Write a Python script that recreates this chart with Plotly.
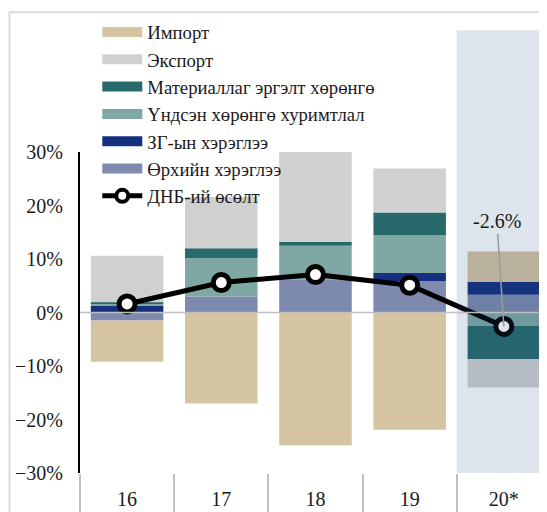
import plotly.graph_objects as go

years = ["16", "17", "18", "19", "20*"]
household = [-1.5, 3.0, 6.2, 5.9, 3.3]
government = [1.3, 0.0, 0.0, 1.5, 2.4]
fixed_capital = [0.3, 7.2, 6.3, 7.1, -2.5]
inventories = [0.3, 1.8, 0.7, 4.2, -6.2]
exports = [8.7, 9.6, 16.8, 8.2, -5.3]
imports = [-7.7, -17.0, -24.8, -21.9, 5.7]
gdp_growth = [1.6, 5.6, 7.1, 5.1, -2.6]

names = {
    "imp": "Импорт",
    "exp": "Экспорт",
    "inv": "Материаллаг эргэлт хөрөнгө",
    "fix": "Үндсэн хөрөнгө хуримтлал",
    "gov": "ЗГ-ын хэрэглээ",
    "hh": "Өрхийн хэрэглээ",
    "gdp": "ДНБ-ий өсөлт",
}
colors = {
    "imp": "#d5c4a1",
    "exp": "#d0d0d0",
    "inv": "#286a6c",
    "fix": "#7fa8a5",
    "gov": "#15307f",
    "hh": "#7d8aad",
}

FONT = "'Liberation Serif', 'Times New Roman', 'DejaVu Serif', serif"
TXT = "#1a1a1a"
x_range = [-0.5, 4.458]

fig = go.Figure()
series = [("hh", household), ("gov", government), ("fix", fixed_capital),
          ("inv", inventories), ("exp", exports), ("imp", imports)]
for key, vals in series:
    fig.add_trace(go.Bar(x=years, y=vals, name=names[key], marker_color=colors[key],
                         marker_line_width=0, width=0.77, showlegend=False))

fig.add_trace(go.Scatter(x=years, y=gdp_growth, name=names["gdp"], mode="lines+markers",
                         xaxis="x2",
                         line=dict(color="black", width=5),
                         marker=dict(size=16, color="white", line=dict(color="black", width=5)),
                         showlegend=False))

# legend entries
legend_keys = ["imp", "exp", "inv", "fix", "gov", "hh"]
for i, key in enumerate(legend_keys):
    fig.add_trace(go.Scatter(x=[None], y=[None], mode="lines", name=names[key],
                             line=dict(color=colors[key], width=10), legendrank=i + 1,
                             showlegend=True))
fig.add_trace(go.Scatter(x=[None], y=[None], mode="lines+markers", name=names["gdp"],
                         line=dict(color="black", width=5),
                         marker=dict(size=12, color="white", line=dict(color="black", width=4)),
                         legendrank=7, showlegend=True))

fig.add_annotation(x=years[-1], y=gdp_growth[-1], text=f"{gdp_growth[-1]}%", showarrow=True,
                   arrowhead=0, arrowwidth=1.5, arrowcolor="#9a9a9a", ax=-7, ay=-105,
                   standoff=0, font=dict(family=FONT, size=20, color=TXT))

shade_x0 = (3.5 - x_range[0]) / (x_range[1] - x_range[0])
fig.add_shape(type="rect", xref="paper", yref="paper", x0=shade_x0, x1=1.0, y0=0, y1=1.379,
              fillcolor="rgba(31,73,125,0.15)", line_width=0, layer="above")
fig.add_shape(type="line", xref="paper", yref="y", x0=0, x1=1, y0=0, y1=0,
              line=dict(color="#bfbfbf", width=1.5), layer="above")
fig.add_shape(type="rect", xref="paper", yref="paper", x0=-0.151, x1=1.2, y0=-0.3, y1=1.435,
              line=dict(color="#dadada", width=2), fillcolor="rgba(0,0,0,0)", layer="below")

fig.update_layout(
    width=539, height=504,
    margin=dict(l=72, r=0, t=144, b=39, autoexpand=False),
    barmode="relative",
    plot_bgcolor="white", paper_bgcolor="white",
    font=dict(family=FONT, size=20, color=TXT),
    legend=dict(x=0.037, y=1.432, xanchor="left", yanchor="top", traceorder="normal",
                font=dict(family=FONT, size=18.7, color=TXT),
                bgcolor="rgba(0,0,0,0)", tracegroupgap=0, itemwidth=40),
    xaxis=dict(type="category", range=x_range, showgrid=False, zeroline=False,
               showline=False, ticks="", ticklabelstandoff=12, automargin=False,
               tickfont=dict(family=FONT, size=20, color=TXT)),
    xaxis2=dict(type="category", range=x_range, overlaying="x", anchor="y", side="bottom",
                showgrid=False, zeroline=False, showline=False, showticklabels=False,
                ticks="outside", ticklen=45, tickwidth=1.5, tickcolor="#c0c0c0",
                tickson="boundaries", automargin=False),
    yaxis=dict(range=[-30, 30], dtick=10, ticksuffix="%", showgrid=False, zeroline=False,
               showline=True, linecolor="black", linewidth=2, ticks="",
               ticklabelstandoff=11, automargin=False,
               tickfont=dict(family=FONT, size=20, color=TXT)),
)

fig.write_html("out.html")
